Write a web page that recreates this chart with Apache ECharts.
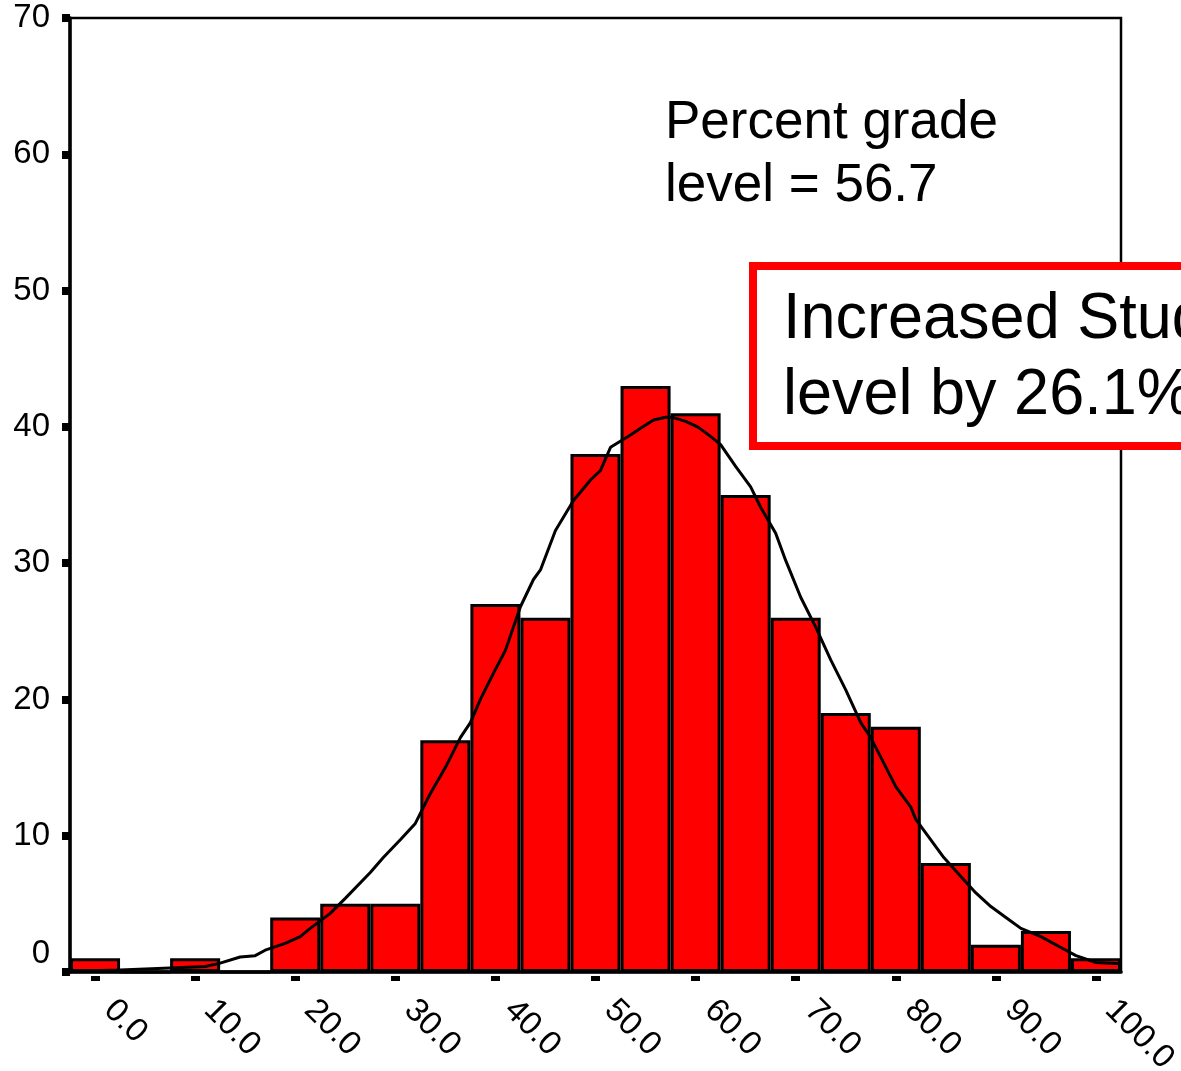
<!DOCTYPE html>
<html>
<head>
<meta charset="utf-8">
<script src="https://cdn.jsdelivr.net/npm/echarts@6/dist/echarts.min.js"></script>
<style>
html,body{margin:0;padding:0;background:#fff;}
#chart{width:1181px;height:1071px;}
</style>
</head>
<body>
<div id="chart"></div>
<script>
// Histogram bins (centers) and counts
const binLabels = ['0.0','5.0','10.0','15.0','20.0','25.0','30.0','35.0','40.0','45.0','50.0','55.0','60.0','65.0','70.0','75.0','80.0','85.0','90.0','95.0','100.0'];
const binCounts = [1,0,1,0,4,5,5,17,27,26,38,43,41,35,26,19,18,8,2,3,1];

// Fitted curve
const curveX = [-2.5,2.5,7.5,11,12.5,14.5,16,17,19,20.5,21.5,23.5,25,27.5,28.8,30.5,32,33.5,35,36.5,37.5,38.5,40,41,42.5,43.8,44.5,46,47.8,49.5,50.5,51.5,53.5,54.5,55.8,57,57.7,59,60.2,61.5,62.5,64,65.5,66.5,68,69,70.5,72,73.5,75,76.5,77.5,80,81.5,82,83.5,84.8,86.5,88,89.5,91,92.5,94.5,96.5,98,100,102.5];
const curveY = [0.05,0.15,0.3,0.4,0.65,1.1,1.2,1.6,2.1,2.6,3.2,4.3,5.4,7.3,8.4,9.7,10.9,13.1,15,17.2,18.3,20,22.2,23.6,26.8,28.8,29.5,32.4,34.6,36.1,36.8,38.5,39.4,39.9,40.5,40.7,40.7,40.4,40,39.3,38.7,37.1,35.6,34.1,32.2,30.2,27.5,25.3,22.9,20.7,18.3,17.2,13.6,12.1,11.2,9.7,8.4,7,5.8,4.8,4,3.2,2.6,1.8,1.2,0.7,0.6];

const yMin = 0, yMax = 70, yStep = 10;
const FONT = 'Liberation Sans, Arial, sans-serif';

const chart = echarts.init(document.getElementById('chart'), null, {renderer:'canvas'});
const curveData = curveX.map((x,i)=>[x, curveY[i]]);

chart.setOption({
  animation:false,
  backgroundColor:'#fff',
  grid:{left:70,right:60,top:18,bottom:99,containLabel:false,outerBoundsMode:'none',
        show:true,borderColor:'#000',borderWidth:2.5,backgroundColor:'transparent'},
  xAxis:[
    {type:'category',data:binLabels,gridIndex:0,position:'bottom',boundaryGap:true,
     axisLine:{show:true,onZero:false,lineStyle:{color:'#000',width:3.5}},
     axisTick:{show:false},
     axisLabel:{interval:1,rotate:-45,margin:19,padding:[0,0,0,20],fontSize:33,color:'#000',fontFamily:FONT},
     splitLine:{show:false}},
    {type:'category',data:binLabels,gridIndex:0,position:'bottom',offset:4,boundaryGap:true,
     axisLine:{show:false,onZero:false},
     axisTick:{show:true,interval:1,alignWithLabel:true,length:5,lineStyle:{color:'#000',width:9}},
     axisLabel:{show:false},splitLine:{show:false}},
    {type:'value',min:-2.5,max:102.5,show:false,gridIndex:0,position:'top',axisLine:{onZero:false}}
  ],
  yAxis:{type:'value',min:yMin,max:yMax,interval:yStep,position:'left',
    axisLine:{show:true,onZero:false,lineStyle:{color:'#000',width:3.5}},
    axisTick:{show:true,length:8,lineStyle:{color:'#000',width:8}},
    axisLabel:{margin:20,fontSize:33,color:'#000',fontFamily:FONT,
      formatter:function(v){return v===0?'{z|0}':String(v);},
      rich:{z:{fontSize:33,color:'#000',fontFamily:FONT,padding:[0,0,36,0]}}},
    splitLine:{show:false}},
  series:[
    {type:'bar',xAxisIndex:0,data:binCounts,barCategoryGap:'0%',
     itemStyle:{color:'#ff0000',borderColor:'#000',borderWidth:3},z:2},
    {type:'line',xAxisIndex:2,data:curveData,showSymbol:false,smooth:false,
     lineStyle:{color:'#000',width:3},z:3}
  ],
  graphic:[
    {type:'text',left:665,top:92,z:10,
     style:{text:'Percent grade\nlevel = 56.7',fontSize:53,lineHeight:63,fill:'#000',fontFamily:FONT}},
    {type:'rect',z:10,shape:{x:753,y:266,width:520,height:180},
     style:{fill:'#fff',stroke:'#ff0000',lineWidth:8}},
    {type:'text',left:783,top:282,z:11,scaleY:1.04,
     style:{text:'Increased Student\nlevel by 26.1%',fontSize:63,lineHeight:73,fill:'#000',fontFamily:FONT}}
  ]
});
</script>
</body>
</html>
